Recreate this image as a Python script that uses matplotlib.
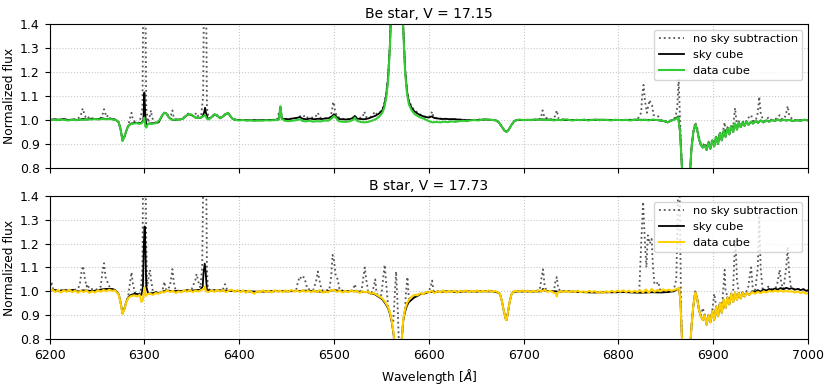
import numpy as np
import matplotlib
matplotlib.use("Agg")
import matplotlib.pyplot as plt

# ---------------- Be star, V = 17.15 ----------------
be_title = "Be star, V = 17.15"

# shared red band segment (sky cube and data cube coincide there)
be_red_band = [
    (6865, 0.95), (6867, 0.80), (6869, 0.70), (6872, 0.68), (6875, 0.75), (6877, 0.88),
    (6879, 0.95), (6881, 0.98), (6883, 0.96), (6885, 0.92), (6887, 0.895), (6889, 0.885),
    (6891, 0.895), (6893, 0.875), (6895, 0.905), (6897, 0.88), (6899, 0.915), (6901, 0.89),
    (6903, 0.93), (6905, 0.90), (6907, 0.945), (6909, 0.915), (6911, 0.955), (6913, 0.93),
    (6915, 0.965), (6917, 0.94), (6919, 0.975), (6921, 0.95), (6923, 0.985), (6925, 0.96),
    (6927, 0.99), (6929, 0.97), (6931, 0.99), (6933, 0.975), (6935, 0.995), (6937, 0.98),
    (6940, 0.993), (6942, 0.985), (6945, 0.997), (6947, 0.988), (6950, 0.998), (6953, 0.99),
    (6956, 0.998), (6959, 0.993), (6962, 1.0), (6965, 0.996), (6968, 1.002), (6971, 0.997),
    (6974, 1.001), (6977, 0.998), (6980, 1.0), (6984, 0.996), (6988, 0.999), (6992, 0.997),
    (6996, 1.001), (7000, 0.998),
]

be_data = [
    (6200, 0.998), (6204, 1.001), (6208, 0.999), (6212, 1.002), (6216, 1.0), (6220, 0.998),
    (6224, 1.001), (6228, 0.999), (6232, 1.002), (6236, 1.0), (6240, 1.003), (6244, 1.002),
    (6248, 1.004), (6252, 1.002), (6256, 1.005), (6260, 1.003), (6264, 1.004), (6268, 1.001),
    (6271, 0.998), (6273, 0.99), (6275, 0.96), (6277, 0.912), (6279, 0.93), (6281, 0.955),
    (6283, 0.975), (6286, 0.983), (6289, 0.985), (6292, 0.987), (6295, 0.984), (6297, 0.986),
    (6299, 0.995), (6300, 1.01), (6301, 0.975), (6302, 0.968), (6304, 0.985), (6307, 0.983),
    (6310, 0.985), (6313, 0.988), (6316, 1.0), (6319, 1.02), (6321, 1.03), (6323, 1.028),
    (6326, 1.01), (6329, 1.0), (6332, 1.002), (6335, 1.0), (6338, 1.003), (6341, 1.005),
    (6344, 1.018), (6347, 1.025), (6350, 1.022), (6353, 1.012), (6356, 1.008), (6359, 1.01),
    (6362, 1.015), (6364, 1.02), (6366, 1.005), (6368, 1.002), (6371, 1.012), (6374, 1.024),
    (6377, 1.018), (6380, 1.008), (6383, 1.015), (6386, 1.025), (6388, 1.03), (6390, 1.02),
    (6393, 1.005), (6396, 1.0), (6400, 0.998), (6404, 1.0), (6408, 0.997), (6412, 0.999),
    (6416, 0.996), (6420, 0.998), (6424, 0.997), (6428, 0.999), (6432, 0.998), (6436, 0.999),
    (6440, 1.0), (6442, 1.002), (6443.5, 1.057), (6445, 1.005), (6448, 0.997), (6452, 0.995),
    (6456, 0.997), (6460, 0.999), (6464, 1.003), (6467, 0.996), (6470, 0.994), (6474, 0.997),
    (6478, 0.993), (6482, 0.995), (6486, 0.994), (6490, 0.998), (6494, 0.997), (6498, 1.008),
    (6500, 1.017), (6502, 1.01), (6505, 0.995), (6508, 0.993), (6512, 0.992), (6516, 0.994),
    (6520, 1.0), (6522, 1.01), (6524, 0.997), (6528, 0.992), (6532, 0.99), (6536, 0.992),
    (6540, 0.997), (6544, 1.003), (6548, 1.015), (6551, 1.03), (6553, 1.05), (6555, 1.09),
    (6557, 1.16), (6559, 1.3), (6561, 1.55), (6563, 1.85), (6566, 1.95), (6569, 1.8),
    (6571, 1.55), (6573, 1.38), (6575, 1.2), (6577, 1.11), (6579, 1.065), (6582, 1.04),
    (6585, 1.025), (6590, 1.012), (6595, 1.005), (6600, 0.995), (6604, 0.99), (6608, 0.992),
    (6612, 0.99), (6616, 0.993), (6620, 0.991), (6624, 0.994), (6628, 0.992), (6632, 0.995),
    (6636, 0.997), (6640, 0.995), (6644, 0.998), (6648, 1.0), (6652, 0.998), (6656, 1.001),
    (6660, 1.003), (6664, 1.001), (6668, 1.0), (6671, 0.998), (6674, 0.99), (6677, 0.972),
    (6680, 0.955), (6682, 0.951), (6684, 0.958), (6687, 0.978), (6690, 0.995), (6693, 1.0),
    (6696, 1.002), (6700, 0.999), (6704, 1.001), (6708, 0.999), (6712, 1.002), (6716, 1.0),
    (6720, 1.003), (6724, 0.999), (6728, 1.002), (6732, 0.998), (6736, 1.001), (6740, 0.999),
    (6744, 1.003), (6748, 1.0), (6752, 0.998), (6756, 1.001), (6760, 0.999), (6764, 1.002),
    (6768, 0.998), (6772, 1.0), (6776, 1.002), (6780, 0.999), (6784, 1.001), (6788, 1.0),
    (6792, 0.998), (6796, 1.001), (6800, 1.0), (6804, 0.999), (6808, 1.001), (6812, 0.998),
    (6816, 1.0), (6820, 1.002), (6824, 0.999), (6828, 1.001), (6832, 0.998), (6836, 1.002),
    (6840, 1.0), (6844, 0.999), (6848, 0.996), (6852, 0.99), (6855, 0.997), (6858, 1.0),
    (6861, 1.005), (6863, 1.012),
] + be_red_band

be_sky = [
    (6200, 1.0), (6205, 1.003), (6210, 1.001), (6215, 1.004), (6220, 1.0), (6225, 1.002),
    (6230, 1.0), (6235, 1.004), (6240, 1.002), (6245, 1.006), (6250, 1.003), (6255, 1.007),
    (6260, 1.004), (6265, 1.005), (6270, 1.0), (6273, 0.99), (6275, 0.96), (6277, 0.915),
    (6279, 0.93), (6281, 0.955), (6283, 0.975), (6286, 0.985), (6290, 0.988), (6294, 0.986),
    (6297, 0.988), (6299, 1.0), (6300, 1.114), (6301, 1.02), (6302, 0.98), (6305, 0.985),
    (6310, 0.987), (6315, 0.99), (6319, 1.02), (6321, 1.03), (6323, 1.028), (6326, 1.01),
    (6330, 1.0), (6335, 1.001), (6340, 1.004), (6344, 1.017), (6347, 1.024), (6350, 1.02),
    (6354, 1.01), (6358, 1.008), (6361, 1.012), (6363, 1.03), (6364, 1.051), (6365, 1.03),
    (6367, 1.003), (6371, 1.012), (6374, 1.023), (6377, 1.017), (6380, 1.007), (6383, 1.015),
    (6386, 1.024), (6388, 1.029), (6390, 1.02), (6393, 1.005), (6396, 1.0), (6400, 1.0),
    (6410, 0.999), (6420, 0.999), (6430, 1.0), (6440, 1.001), (6442, 1.003), (6443.5, 1.055),
    (6445, 1.006), (6448, 1.004), (6452, 1.003), (6456, 1.006), (6460, 1.008), (6464, 1.012),
    (6467, 1.005), (6471, 1.003), (6475, 1.006), (6479, 1.003), (6483, 1.005), (6487, 1.004),
    (6491, 1.006), (6495, 1.008), (6498, 1.016), (6500, 1.024), (6502, 1.016), (6505, 1.004),
    (6509, 1.003), (6513, 1.002), (6517, 1.004), (6520, 1.008), (6522, 1.017), (6524, 1.006),
    (6528, 1.004), (6532, 1.003), (6536, 1.006), (6540, 1.012), (6544, 1.018), (6548, 1.028),
    (6551, 1.04), (6553, 1.06), (6555, 1.1), (6557, 1.17), (6559, 1.31), (6561, 1.55),
    (6563, 1.85), (6566, 1.95), (6569, 1.8), (6571, 1.55), (6573, 1.39), (6575, 1.21),
    (6577, 1.12), (6579, 1.075), (6582, 1.05), (6585, 1.035), (6590, 1.022), (6595, 1.014),
    (6600, 1.01), (6603, 1.015), (6606, 1.008), (6610, 1.006), (6614, 1.004), (6618, 1.005),
    (6622, 1.003), (6626, 1.004), (6630, 1.002), (6635, 1.001), (6640, 0.999), (6645, 1.0),
    (6650, 1.0), (6660, 1.002), (6668, 1.0), (6671, 0.998), (6674, 0.99), (6677, 0.972),
    (6680, 0.955), (6682, 0.951), (6684, 0.958), (6687, 0.978), (6690, 0.995), (6693, 1.0),
    (6700, 1.0), (6720, 1.002), (6740, 1.0), (6760, 1.0), (6780, 1.001), (6800, 1.0),
    (6820, 1.001), (6840, 1.0), (6848, 0.995), (6852, 0.99), (6855, 0.996), (6858, 1.001),
    (6861, 1.008), (6863, 1.015),
] + be_red_band

be_nosky = [
    (6200, 1.0), (6210, 1.001), (6220, 1.0), (6226, 1.002), (6230, 1.005), (6233, 1.02),
    (6235, 1.048), (6237, 1.02), (6239, 1.005), (6241, 1.01), (6242, 1.015), (6244, 1.005),
    (6250, 1.004), (6255, 1.01), (6257.5, 1.045), (6260, 1.012), (6262, 1.02), (6264, 1.006),
    (6268, 1.004), (6270, 1.0), (6273, 0.99), (6275, 0.96), (6277, 0.915), (6279, 0.93),
    (6281, 0.955), (6283, 0.978), (6285, 1.01), (6286.5, 1.03), (6288, 1.0), (6291, 0.99),
    (6295, 0.988), (6298, 1.05), (6299, 1.6), (6300, 1.9), (6301, 1.6), (6302, 1.05),
    (6304, 0.99), (6306, 1.02), (6307, 1.04), (6308, 1.01), (6311, 0.99), (6315, 0.99),
    (6319, 1.02), (6321, 1.03), (6323, 1.03), (6326, 1.015), (6328, 1.02), (6329.6, 1.04),
    (6331, 1.01), (6335, 1.0), (6340, 1.005), (6344, 1.018), (6347, 1.03), (6350, 1.02),
    (6353, 1.02), (6355, 1.03), (6357, 1.015), (6360, 1.02), (6362, 1.1), (6363, 1.6),
    (6364, 1.9), (6365, 1.6), (6366, 1.05), (6368, 1.005), (6371, 1.012), (6374, 1.025),
    (6377, 1.02), (6380, 1.01), (6383, 1.017), (6386, 1.028), (6388, 1.03), (6390, 1.02),
    (6393, 1.005), (6400, 1.0), (6420, 0.999), (6440, 1.0), (6443.5, 1.055), (6445, 1.005),
    (6455, 1.005), (6462, 1.01), (6464, 1.015), (6466, 1.02), (6468, 1.015), (6470, 1.02),
    (6472, 1.01), (6480, 1.01), (6483, 1.03), (6485, 1.01), (6492, 1.007), (6496, 1.01),
    (6498, 1.04), (6499, 1.075), (6500, 1.07), (6501, 1.04), (6503, 1.015), (6508, 1.005),
    (6515, 1.004), (6520, 1.01), (6522, 1.018), (6524, 1.008), (6530, 1.01), (6532, 1.035),
    (6534, 1.012), (6538, 1.01), (6541, 1.02), (6543, 1.035), (6545, 1.025), (6548, 1.03),
    (6551, 1.045), (6553, 1.07), (6555, 1.11), (6557, 1.18), (6559, 1.32), (6561, 1.55),
    (6563, 1.85), (6566, 1.95), (6569, 1.8), (6571, 1.55), (6573, 1.39), (6575, 1.21),
    (6577, 1.125), (6579, 1.08), (6582, 1.055), (6585, 1.04), (6590, 1.025), (6595, 1.015),
    (6600, 1.012), (6602, 1.02), (6603.5, 1.035), (6605, 1.012), (6610, 1.006), (6620, 1.004),
    (6630, 1.002), (6640, 1.0), (6660, 1.002), (6671, 0.998), (6674, 0.99), (6677, 0.972),
    (6680, 0.955), (6682, 0.951), (6684, 0.958), (6687, 0.978), (6690, 0.995), (6693, 1.0),
    (6710, 1.0), (6718, 1.005), (6720, 1.04), (6722, 1.01), (6730, 1.003), (6733, 1.015),
    (6735, 1.04), (6737, 1.005), (6750, 1.0), (6780, 1.0), (6810, 1.0), (6820, 1.002),
    (6824, 1.03), (6825, 1.1), (6826.5, 1.146), (6828, 1.08), (6830, 1.03), (6831.5, 1.06),
    (6833, 1.083), (6834, 1.07), (6835.5, 1.06), (6837, 1.02), (6840, 1.02), (6842, 1.015),
    (6845, 1.0), (6850, 0.995), (6855, 0.998), (6860, 1.01), (6862, 1.05), (6863.5, 1.17),
    (6865, 1.0), (6867, 0.8), (6869, 0.7), (6872, 0.68), (6875, 0.75), (6877, 0.88),
    (6879, 0.95), (6881, 0.99), (6883, 0.97), (6885, 0.93), (6887, 0.9), (6889, 0.895),
    (6891, 0.905), (6893, 0.885), (6895, 0.91), (6897, 0.89), (6899, 0.92), (6901, 0.9),
    (6903, 0.935), (6905, 0.91), (6907, 0.95), (6909, 0.925), (6911, 0.97), (6912, 0.99),
    (6913, 0.945), (6915, 0.97), (6917, 0.95), (6919, 0.98), (6921, 0.97), (6923, 1.05),
    (6925, 0.975), (6927, 0.995), (6929, 0.98), (6931, 0.995), (6933, 0.985), (6936, 1.0),
    (6938, 1.015), (6940, 1.02), (6942, 0.995), (6945, 1.0), (6947, 1.03), (6948.5, 1.097),
    (6950, 1.03), (6953, 0.995), (6956, 1.0), (6958, 1.01), (6960, 1.0), (6963, 1.003),
    (6966, 1.005), (6968, 1.01), (6970, 1.02), (6972, 1.005), (6975, 1.005), (6977, 1.03),
    (6978.5, 1.058), (6980, 1.02), (6984, 1.0), (6990, 1.0), (7000, 0.999),
]

# ---------------- B star, V = 17.73 ----------------
b_title = "B star, V = 17.73"

b_red_band = [
    (6865.5, 0.95), (6867, 0.80), (6869, 0.68), (6872, 0.65), (6875, 0.72), (6877, 0.85),
    (6879, 0.94), (6881, 0.995), (6883, 0.97), (6885, 0.92), (6887, 0.895), (6889, 0.88),
    (6891, 0.90), (6893, 0.86), (6895, 0.90), (6897, 0.87), (6899, 0.915), (6901, 0.88),
    (6903, 0.935), (6905, 0.895), (6907, 0.95), (6909, 0.91), (6911, 0.965), (6913, 0.93),
    (6915, 0.975), (6917, 0.945), (6919, 0.99), (6921, 0.955), (6923, 0.995), (6925, 0.965),
    (6927, 0.993), (6929, 0.97), (6931, 0.995), (6933, 0.978), (6935, 0.993), (6938, 0.985),
]

b_data = [
    (6200, 1.0), (6203, 1.008), (6206, 0.997), (6209, 1.005), (6212, 0.995), (6215, 1.004),
    (6218, 0.998), (6221, 1.007), (6224, 0.996), (6227, 1.003), (6230, 0.994), (6233, 1.002),
    (6236, 0.997), (6239, 1.004), (6242, 0.993), (6245, 1.0), (6248, 0.995), (6251, 1.005),
    (6254, 0.998), (6257, 1.006), (6260, 1.0), (6263, 1.007), (6266, 1.002), (6269, 1.004),
    (6271, 0.995), (6273, 0.985), (6275, 0.95), (6277, 0.905), (6279, 0.925), (6281, 0.955),
    (6283, 0.972), (6286, 0.98), (6289, 0.983), (6292, 0.978), (6295, 0.985), (6297, 0.955),
    (6298.5, 0.965), (6300, 1.015), (6301.5, 0.98), (6303, 0.988), (6306, 0.99), (6309, 0.985),
    (6312, 0.993), (6315, 0.99), (6318, 0.998), (6321, 0.995), (6324, 1.004), (6327, 0.997),
    (6330, 1.002), (6333, 0.993), (6336, 1.0), (6339, 0.996), (6342, 1.004), (6345, 0.998),
    (6348, 1.005), (6351, 0.997), (6354, 1.003), (6357, 0.999), (6360, 1.006), (6363, 1.01),
    (6364, 1.02), (6365, 1.0), (6368, 0.997), (6371, 1.004), (6374, 0.998), (6377, 1.006),
    (6380, 0.999), (6383, 1.005), (6386, 0.996), (6389, 1.003), (6392, 1.007), (6395, 0.998),
    (6398, 1.005), (6401, 0.996), (6404, 1.004), (6407, 0.994), (6410, 1.003), (6413, 0.997),
    (6416, 0.99), (6419, 1.0), (6422, 0.996), (6425, 1.004), (6428, 0.997), (6431, 1.002),
    (6434, 0.995), (6437, 1.004), (6440, 0.999), (6443, 1.003), (6446, 0.996), (6449, 1.004),
    (6452, 0.998), (6455, 1.006), (6458, 0.999), (6461, 1.003), (6464, 0.997), (6467, 1.004),
    (6470, 0.998), (6473, 1.002), (6476, 0.996), (6479, 1.003), (6482, 0.997), (6485, 1.005),
    (6488, 0.994), (6491, 1.0), (6494, 0.996), (6497, 1.004), (6500, 1.006), (6503, 0.997),
    (6506, 1.003), (6509, 0.995), (6512, 1.002), (6515, 0.996), (6518, 1.004), (6521, 0.998),
    (6524, 1.002), (6527, 0.993), (6530, 1.0), (6533, 0.996), (6536, 0.999), (6539, 0.99),
    (6542, 0.993), (6545, 0.985), (6548, 0.978), (6551, 0.97), (6554, 0.955), (6557, 0.935),
    (6559, 0.91), (6561, 0.875), (6563, 0.82), (6564.5, 0.72), (6566, 0.69), (6568, 0.70),
    (6570, 0.74), (6571.5, 0.80), (6573, 0.88), (6575, 0.925), (6577, 0.95), (6579, 0.965),
    (6582, 0.978), (6585, 0.985), (6588, 0.983), (6591, 0.992), (6594, 0.988), (6597, 0.997),
    (6600, 0.995), (6603, 1.002), (6606, 0.993), (6609, 1.0), (6612, 0.996), (6615, 1.004),
    (6618, 0.995), (6621, 1.002), (6624, 0.997), (6627, 1.003), (6630, 0.994), (6633, 1.002),
    (6636, 0.998), (6639, 1.004), (6642, 0.996), (6645, 1.003), (6648, 0.998), (6651, 1.004),
    (6654, 0.997), (6657, 1.002), (6660, 0.998), (6663, 1.004), (6666, 0.997), (6669, 1.002),
    (6672, 0.998), (6675, 0.99), (6677, 0.96), (6679, 0.92), (6681, 0.885), (6682, 0.879),
    (6683, 0.90), (6685, 0.95), (6687, 0.985), (6689, 0.998), (6692, 1.002), (6695, 0.997),
    (6698, 1.004), (6701, 0.998), (6704, 1.003), (6707, 0.996), (6710, 1.002), (6713, 0.998),
    (6716, 1.004), (6719, 1.0), (6722, 1.006), (6725, 0.998), (6728, 1.002), (6731, 0.996),
    (6734, 0.99), (6735, 0.978), (6736, 0.995), (6739, 1.0), (6742, 0.997), (6745, 1.002),
    (6748, 0.996), (6751, 1.001), (6754, 0.997), (6757, 1.003), (6760, 0.996), (6763, 1.0),
    (6766, 0.995), (6769, 1.002), (6772, 0.997), (6775, 1.001), (6778, 0.994), (6781, 0.999),
    (6784, 0.993), (6787, 1.0), (6790, 0.996), (6793, 1.002), (6796, 0.997), (6799, 1.003),
    (6802, 0.998), (6805, 1.004), (6808, 0.997), (6811, 1.003), (6814, 0.996), (6817, 1.002),
    (6820, 0.997), (6823, 1.004), (6826, 0.995), (6829, 1.008), (6832, 0.994), (6835, 1.01),
    (6838, 0.998), (6841, 1.006), (6844, 1.0), (6847, 1.008), (6850, 1.003), (6853, 1.007),
    (6856, 1.002), (6859, 1.006), (6862, 1.01), (6864, 1.015),
] + b_red_band + [
    (6941, 0.997), (6944, 0.99), (6947, 0.998), (6950, 0.992), (6953, 1.0), (6956, 0.995),
    (6959, 1.002), (6962, 0.998), (6965, 1.003), (6968, 0.999), (6971, 1.003), (6974, 0.998),
    (6977, 1.002), (6980, 0.999), (6983, 1.0), (6986, 0.995), (6989, 0.999), (6992, 0.993),
    (6995, 0.997), (6998, 0.99), (7000, 0.993),
]

b_sky = [
    (6200, 1.002), (6205, 1.006), (6210, 1.0), (6215, 1.005), (6220, 1.003), (6225, 1.006),
    (6230, 0.999), (6235, 1.004), (6240, 1.003), (6245, 1.001), (6250, 1.004), (6255, 1.008),
    (6260, 1.01), (6265, 1.01), (6269, 1.006), (6271, 0.997), (6273, 0.987), (6275, 0.952),
    (6277, 0.907), (6279, 0.927), (6281, 0.957), (6283, 0.975), (6286, 0.985), (6290, 0.99),
    (6294, 0.988), (6297, 0.985), (6298.5, 1.02), (6299.5, 1.2), (6300.3, 1.272), (6301, 1.2),
    (6302, 1.02), (6304, 0.99), (6308, 0.992), (6312, 0.995), (6316, 0.993), (6320, 1.0),
    (6325, 1.003), (6330, 1.0), (6335, 1.002), (6340, 1.001), (6345, 1.004), (6350, 1.003),
    (6355, 1.005), (6359, 1.006), (6361.5, 1.02), (6362.5, 1.08), (6363.7, 1.116),
    (6364.7, 1.08), (6366, 1.005), (6370, 1.003), (6380, 1.004), (6390, 1.002), (6400, 1.001),
    (6410, 1.0), (6420, 0.998), (6430, 1.0), (6440, 1.002), (6450, 1.0), (6460, 1.001),
    (6470, 1.003), (6480, 1.0), (6490, 0.998), (6500, 1.005), (6510, 1.0), (6520, 1.001),
    (6530, 0.998), (6536, 0.996), (6539, 0.99), (6542, 0.99), (6545, 0.982), (6548, 0.975),
    (6551, 0.966), (6554, 0.95), (6557, 0.93), (6559, 0.905), (6561, 0.87), (6563, 0.815),
    (6564.5, 0.72), (6566, 0.69), (6568, 0.70), (6570, 0.74), (6571.5, 0.80), (6573, 0.875),
    (6575, 0.915), (6577, 0.94), (6579, 0.955), (6582, 0.965), (6585, 0.975), (6588, 0.98),
    (6591, 0.988), (6595, 0.99), (6600, 0.997), (6610, 0.998), (6620, 1.0), (6630, 0.997),
    (6640, 1.0), (6650, 0.999), (6660, 1.0), (6670, 0.999), (6675, 0.99), (6677, 0.96),
    (6679, 0.92), (6681, 0.885), (6682, 0.879), (6683, 0.90), (6685, 0.95), (6687, 0.985),
    (6689, 0.998), (6700, 1.0), (6710, 0.999), (6719, 1.0), (6720.5, 1.01), (6722, 1.003),
    (6730, 1.0), (6734.5, 1.0), (6736, 0.998), (6745, 1.0), (6755, 0.998), (6765, 0.996),
    (6775, 0.995), (6785, 0.996), (6795, 0.996), (6805, 0.997), (6815, 0.995), (6825, 0.994),
    (6835, 0.996), (6845, 0.995), (6852, 0.997), (6858, 1.0), (6862, 1.008), (6864, 1.015),
] + b_red_band + [
    (6941, 1.0), (6944, 0.995), (6947, 1.005), (6950, 0.998), (6953, 1.008), (6956, 1.003),
    (6959, 1.01), (6962, 1.005), (6965, 1.012), (6968, 1.007), (6971, 1.014), (6974, 1.008),
    (6977, 1.015), (6980, 1.01), (6983, 1.013), (6986, 1.007), (6989, 1.01), (6992, 1.005),
    (6995, 1.009), (6998, 1.002), (7000, 1.004),
]

b_nosky = [
    (6200, 1.005), (6202, 1.04), (6204, 1.005), (6215, 1.004), (6225, 1.005), (6230, 1.01),
    (6232, 1.03), (6234, 1.09), (6235.5, 1.106), (6237, 1.06), (6239, 1.02), (6240, 1.03),
    (6242, 1.01), (6250, 1.008), (6254, 1.02), (6256, 1.09), (6257.5, 1.118), (6259, 1.06),
    (6261, 1.04), (6262, 1.03), (6264, 1.012), (6269, 1.006), (6271, 0.997), (6273, 0.987),
    (6275, 0.952), (6277, 0.907), (6279, 0.927), (6281, 0.957), (6283, 0.98), (6285, 1.04),
    (6286.5, 1.08), (6288, 1.03), (6290, 0.995), (6296, 0.99), (6298, 1.1), (6299, 1.7),
    (6300, 2.2), (6301, 1.7), (6302, 1.2), (6303, 1.02), (6305, 1.07), (6306, 1.09),
    (6307, 1.05), (6309, 1.0), (6315, 0.995), (6319, 1.0), (6321, 1.04), (6323, 1.005),
    (6327, 1.02), (6329.6, 1.093), (6331, 1.04), (6333, 1.003), (6340, 1.002), (6345, 1.005),
    (6350, 1.01), (6352, 1.03), (6354, 1.05), (6355, 1.073), (6357, 1.04), (6359, 1.015),
    (6361, 1.1), (6362.5, 1.6), (6363.7, 1.9), (6365, 1.6), (6366, 1.1), (6367, 1.01),
    (6370, 1.005), (6380, 1.005), (6383, 1.01), (6385, 1.03), (6387, 1.01), (6395, 1.0),
    (6420, 0.998), (6450, 1.0), (6460, 1.003), (6462, 1.04), (6464, 1.062), (6466, 1.05),
    (6468, 1.06), (6470, 1.04), (6472, 1.01), (6478, 1.005), (6481, 1.04), (6483, 1.083),
    (6485, 1.04), (6487, 1.005), (6495, 1.005), (6497, 1.06), (6498.5, 1.153), (6500, 1.13),
    (6502, 1.06), (6504, 1.05), (6506, 1.005), (6515, 1.0), (6520, 1.005), (6522, 1.03),
    (6524, 1.0), (6529, 1.0), (6531, 1.06), (6532.5, 1.1), (6534, 1.05), (6536, 1.0),
    (6540, 0.995), (6542, 1.02), (6543.5, 1.05), (6545, 0.99), (6548, 0.98), (6550, 0.985),
    (6552, 1.06), (6553.5, 1.111), (6555, 1.04), (6557, 0.94), (6559, 0.91), (6561, 0.875),
    (6562.5, 0.87), (6564, 0.98), (6565.5, 1.083), (6567, 0.95), (6568.5, 0.78), (6570, 0.74),
    (6571.5, 0.80), (6573, 0.88), (6575, 0.93), (6576, 1.0), (6577.5, 1.06), (6579, 0.97),
    (6582, 0.97), (6585, 0.978), (6590, 0.99), (6595, 0.99), (6600, 1.0), (6602, 1.02),
    (6603.5, 1.045), (6605, 1.0), (6620, 1.0), (6660, 1.0), (6670, 0.999), (6675, 0.99),
    (6677, 0.96), (6679, 0.92), (6681, 0.885), (6682, 0.879), (6683, 0.90), (6685, 0.95),
    (6687, 0.985), (6689, 0.998), (6710, 1.0), (6717, 1.005), (6719, 1.06), (6720.5, 1.092),
    (6722, 1.03), (6724, 1.0), (6732, 1.0), (6733.5, 1.04), (6735, 1.06), (6736.5, 1.01),
    (6740, 1.0), (6780, 0.996), (6815, 0.996), (6822, 1.0), (6824, 1.2), (6826, 1.375),
    (6828, 1.2), (6829.5, 1.1), (6831, 1.235), (6833, 1.2), (6835, 1.22), (6836.5, 1.1),
    (6838, 1.03), (6840, 1.03), (6842, 1.04), (6844, 1.005), (6850, 0.998), (6858, 1.0),
    (6861, 1.05), (6862.5, 1.3), (6863.5, 1.7), (6865, 1.3), (6866, 0.95), (6867, 0.8),
    (6869, 0.68), (6872, 0.65), (6875, 0.72), (6877, 0.85), (6879, 0.94), (6881, 1.0),
    (6883, 0.975), (6885, 0.925), (6887, 0.9), (6889, 0.93), (6891, 0.9), (6893, 0.87),
    (6895, 0.9), (6897, 0.875), (6899, 0.92), (6901, 0.99), (6903, 0.94), (6905, 0.9),
    (6907, 0.955), (6909, 0.92), (6911, 1.03), (6912, 1.09), (6913, 1.0), (6915, 0.98),
    (6917, 0.95), (6919, 0.99), (6921, 1.0), (6922, 1.12), (6923.4, 1.22), (6925, 1.05),
    (6927, 0.995), (6929, 0.975), (6931, 1.0), (6933, 0.985), (6935, 1.0), (6937, 1.02),
    (6939, 1.08), (6940, 1.1), (6941.5, 1.02), (6944, 0.995), (6947, 1.1), (6948.5, 1.31),
    (6950, 1.1), (6952, 1.01), (6955, 1.0), (6958, 1.02), (6960, 1.01), (6963, 1.01),
    (6966, 1.015), (6968, 1.04), (6970, 1.09), (6972, 1.03), (6974, 1.01), (6977, 1.1),
    (6978.5, 1.187), (6980, 1.08), (6982, 1.015), (6986, 1.008), (6990, 1.01), (6995, 1.008),
    (7000, 1.004),
]

x_ticks = [6200, 6300, 6400, 6500, 6600, 6700, 6800, 6900, 7000]
y_ticks = [0.8, 0.9, 1.0, 1.1, 1.2, 1.3, 1.4]
series_labels = ["no sky subtraction", "sky cube", "data cube"]

fig = plt.figure(figsize=(8.31, 3.86), dpi=100)
ax1 = fig.add_axes([0.0596, 0.5648, 0.9128, 0.3731])
ax2 = fig.add_axes([0.0596, 0.1218, 0.9128, 0.3705])

panels = [
    (ax1, be_title, be_nosky, be_sky, be_data, "#33cc33"),
    (ax2, b_title, b_nosky, b_sky, b_data, "#ffd000"),
]

for ax, title, nosky, sky, data, col in panels:
    w, f = np.array(nosky).T
    ax.plot(w, f, ls=":", color="#555555", lw=1.3, label=series_labels[0])
    w, f = np.array(sky).T
    ax.plot(w, f, ls="-", color="black", lw=1.3, label=series_labels[1])
    w, f = np.array(data).T
    ax.plot(w, f, ls="-", color=col, lw=1.5, label=series_labels[2])
    ax.set_xlim(6200, 7000)
    ax.set_ylim(0.8, 1.4)
    ax.set_xticks(x_ticks)
    ax.set_yticks(y_ticks)
    ax.grid(True, ls=":", color="#c8c8c8", lw=0.8)
    ax.set_axisbelow(True)
    ax.set_title(title, fontsize=10, pad=4)
    ax.set_ylabel("Normalized flux", fontsize=8.8, labelpad=3)
    ax.tick_params(labelsize=9, length=3.5)
    ax.legend(loc="upper right", fontsize=8.2, framealpha=0.8,
              borderaxespad=0.5, handlelength=2.2)

ax1.set_xticklabels([])
ax2.set_xlabel(r"Wavelength [$\AA$]", fontsize=8.8)

fig.savefig("out.png", dpi=100)
